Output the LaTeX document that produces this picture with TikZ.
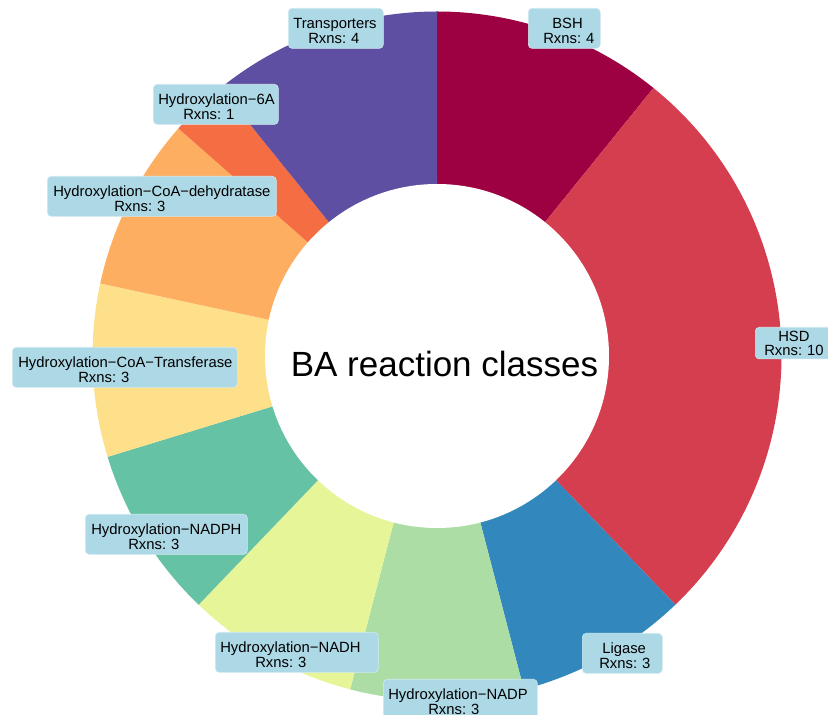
\documentclass[tikz,border=0pt]{standalone}
\usepackage{fontspec}
\setmainfont{Liberation Sans}
\frenchspacing
\definecolor{cBSH}{HTML}{9E0142}
\definecolor{cHSD}{HTML}{D53E4F}
\definecolor{cLig}{HTML}{3288BD}
\definecolor{cNADP}{HTML}{ABDDA4}
\definecolor{cNADH}{HTML}{E6F598}
\definecolor{cNADPH}{HTML}{66C2A5}
\definecolor{cTrf}{HTML}{FEE08B}
\definecolor{cDeh}{HTML}{FDAE61}
\definecolor{cSixA}{HTML}{F46D43}
\definecolor{cTrp}{HTML}{5E4FA2}
\definecolor{lblue}{HTML}{ADD8E6}
\begin{document}
\begin{tikzpicture}[x=1pt,y=1pt,
  lbl/.style={fill=lblue, draw=lblue!55!white, line width=0.6pt, rounded corners=4pt,
    anchor=north west, inner xsep=0pt, inner ysep=5pt, align=left,
    font={\fontsize{14.8}{14.5}\selectfont\frenchspacing}, text=black},
  hsdlbl/.style={lbl, inner ysep=3.5pt, font={\fontsize{14.8}{13.5}\selectfont\frenchspacing}}]
\fill[white] (0,0) rectangle (828,715);
\useasboundingbox (0,0) rectangle (828,715);
\coordinate (C) at (437,359);
% donut wedges (clockwise from top)
\foreach \a/\b/\c in {90/51.081/cBSH, 51.081/-46.216/cHSD, -46.216/-75.405/cLig,
  -75.405/-104.595/cNADP, -104.595/-133.784/cNADH, -133.784/-162.973/cNADPH,
  -162.973/-192.162/cTrf, -192.162/-221.351/cDeh, -221.351/-231.081/cSixA,
  -231.081/-270/cTrp}{
  \fill[\c] (C) -- ++(\a:344.5) arc[start angle=\a, end angle=\b, radius=344.5] -- cycle;
}
\fill[white] (C) circle[radius=172];
\node[font={\fontsize{35}{40}\selectfont}, anchor=base] (title) at (444.5,338) {BA reaction classes};
% labels
\node[lbl, text width=95pt] (trp) at (288,707) {\rule{0pt}{15.5pt}\hspace*{5pt}Transporters\\\hspace*{20pt}Rxns: 4};
\node[lbl, text width=72pt] (bsh) at (528,707) {\rule{0pt}{15.5pt}\hspace*{24pt}BSH\\\hspace*{15pt}Rxns: 4};
\node[hsdlbl, text width=80pt] (hsd) at (755,388) {\rule{0pt}{11pt}\hspace*{23pt}HSD\\\hspace*{9pt}Rxns: 10};
\node[lbl, text width=80pt] (lig) at (582,82) {\rule{0pt}{15.5pt}\hspace*{20pt}Ligase\\\hspace*{17pt}Rxns: 3};
\node[lbl, text width=154pt] (nadp) at (383,36) {\rule{0pt}{15.5pt}\hspace*{5pt}Hydroxylation−NADP\\\hspace*{45pt}Rxns: 3};
\node[lbl, text width=163pt] (nadh) at (215,83) {\rule{0pt}{15.5pt}\hspace*{5pt}Hydroxylation−NADH\\\hspace*{40pt}Rxns: 3};
\node[lbl, text width=162pt] (nadph) at (85,201) {\rule{0pt}{15.5pt}\hspace*{6pt}Hydroxylation−NADPH\\\hspace*{43pt}Rxns: 3};
\node[lbl, text width=225pt] (trf) at (12,368) {\rule{0pt}{15.5pt}\hspace*{6pt}Hydroxylation−CoA−Transferase\\\hspace*{66pt}Rxns: 3};
\node[lbl, text width=229pt] (deh) at (47,539) {\rule{0pt}{15.5pt}\hspace*{6pt}Hydroxylation−CoA−dehydratase\\\hspace*{67pt}Rxns: 3};
\node[lbl, text width=125pt] (sixa) at (153,631) {\rule{0pt}{15.5pt}\hspace*{5pt}Hydroxylation−6A\\\hspace*{30pt}Rxns: 1};
\end{tikzpicture}
\end{document}
